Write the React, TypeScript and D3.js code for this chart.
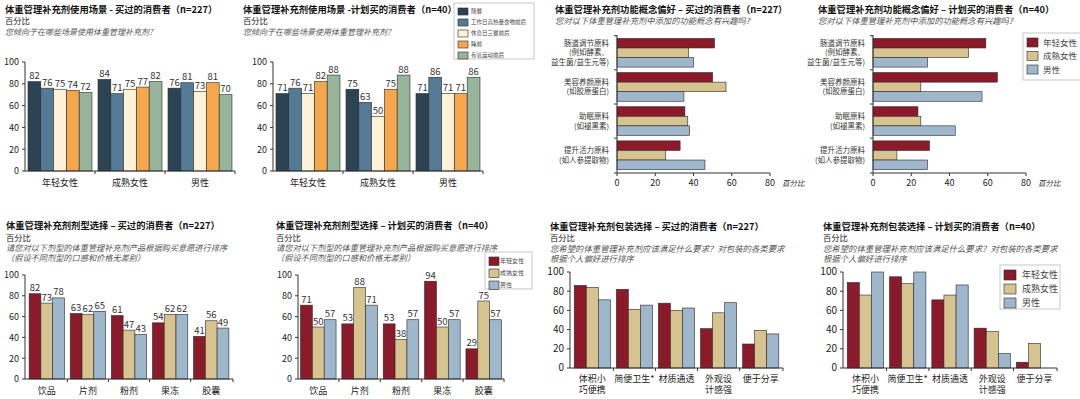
import React from "react";
import * as d3 from "d3";

// ---- data ----
const groupCats = ["年轻女性", "成熟女性", "男性"];
const usageSeries = ["随餐", "工作日高热量食物前后", "休息日三餐前后", "睡前", "有氧运动前后"];
// rows = series, cols = groupCats
const usageBought = [
  [82, 84, 76],
  [76, 71, 81],
  [75, 75, 73],
  [74, 77, 81],
  [72, 82, 70],
];
const usagePlanned = [
  [71, 75, 71],
  [76, 63, 86],
  [71, 50, 71],
  [82, 75, 71],
  [88, 88, 86],
];

const conceptCats = [
  ["肠道调节原料", "(例如酵素、", "益生菌/益生元等)"],
  ["美容养颜原料", "(如胶原蛋白)"],
  ["助眠原料", "(如褪黑素)"],
  ["提升活力原料", "(如人参提取物)"],
];
const conceptBought = [
  [51, 50, 35.5, 33],
  [37.5, 57, 37, 25.5],
  [40, 35, 38, 46],
];
const conceptPlanned = [
  [59, 65, 23.5, 29.5],
  [50, 25, 25, 12.5],
  [28.5, 57, 43, 28.5],
];

const formCats = [["饮品"], ["片剂"], ["粉剂"], ["果冻"], ["胶囊"]];
const formBought = [
  [82, 63, 61, 54, 41],
  [73, 62, 47, 62, 56],
  [78, 65, 43, 62, 49],
];
const formPlanned = [
  [71, 53, 53, 94, 29],
  [50, 88, 38, 50, 75],
  [57, 71, 57, 57, 57],
];

const packCats = [["体积小", "巧便携"], ["简便卫生*"], ["材质通透"], ["外观设", "计感强"], ["便于分享"]];
const packBought = [
  [86, 82, 67.5, 41, 25],
  [84, 61, 60, 57.5, 39],
  [71, 65.5, 62.5, 68, 35.5],
];
const packPlanned = [
  [89, 95, 71, 41.5, 6],
  [76, 88, 76, 38, 25.5],
  [100, 100, 86.5, 15, 0],
];

const yTicks = [0, 20, 40, 60, 80, 100];
const xTicksH = [0, 20, 40, 60, 80];

const usageColors = ["#2c4354", "#557a96", "#fdf1d8", "#f6a64c", "#97b59a"];
const genderColors = ["#8b1a2b", "#d6c38f", "#9fb7cc"];

const FONT = "'Noto Sans CJK SC', 'Noto Sans', sans-serif";

interface HeadProps {
  x: number;
  y: number;
  title: string;
  sub?: string;
  questions: string[];
  qSize?: number;
}

const Head: React.FC<HeadProps> = ({ x, y, title, sub, questions, qSize = 8 }) => {
  let cy = y;
  const out: React.ReactNode[] = [];
  out.push(
    <text key="t" x={x} y={cy} fontSize={9.3} fontWeight="bold" fill="#111">{title}</text>
  );
  cy += 11.5;
  if (sub) {
    out.push(<text key="s" x={x} y={cy} fontSize={8.3} fill="#222">{sub}</text>);
    cy += 10.5;
  }
  questions.forEach((q, i) => {
    out.push(
      <text key={"q" + i} x={x} y={cy + i * 10.3} fontSize={qSize} fontStyle="italic" fill="#555">{q}</text>
    );
  });
  return <g>{out}</g>;
};

interface VBarProps {
  x0: number;
  x1: number;
  yTop: number;
  yBottom: number;
  cats: string[][];
  values: number[][];
  colors: string[];
  showValues: boolean;
  padInner: number;
  padOuter: number;
  tickSize?: number;
}

const VBars: React.FC<VBarProps> = ({ x0, x1, yTop, yBottom, cats, values, colors, showValues, padInner, padOuter, tickSize = 9 }) => {
  const keys = cats.map((c) => c.join(""));
  const x = d3.scaleBand<string>().domain(keys).range([x0, x1]).paddingInner(padInner).paddingOuter(padOuter);
  const sub = d3.scaleBand<number>().domain(d3.range(values.length)).range([0, x.bandwidth()]);
  const y = d3.scaleLinear().domain([0, 100]).range([yBottom, yTop]);
  const step = x.step();
  const bounds = keys.map((k) => (x(k) as number) - (step - x.bandwidth()) / 2);
  bounds.push(x1);
  const multi = cats.some((c) => c.length > 1);
  return (
    <g>
      {values.map((series, si) =>
        series.map((v, ci) =>
          v > 0 ? (
            <rect
              key={`${si}-${ci}`}
              x={(x(keys[ci]) as number) + (sub(si) as number)}
              y={y(v)}
              width={sub.bandwidth()}
              height={y(0) - y(v)}
              fill={colors[si]}
              stroke="#2a2a2a"
              strokeWidth={0.6}
            />
          ) : null
        )
      )}
      {showValues &&
        values.map((series, si) =>
          series.map((v, ci) => (
            <text
              key={`l${si}-${ci}`}
              x={(x(keys[ci]) as number) + (sub(si) as number) + sub.bandwidth() / 2}
              y={y(v) - 2.5}
              textAnchor="middle"
              fontSize={9.5}
              fill="#333"
            >
              {v}
            </text>
          ))
        )}
      <line x1={x0} x2={x0} y1={yTop} y2={yBottom} stroke="#333" strokeWidth={1} />
      <line x1={x0} x2={x1} y1={yBottom} y2={yBottom} stroke="#333" strokeWidth={1} />
      {yTicks.map((t) => (
        <g key={t}>
          <line x1={x0 - 3} x2={x0} y1={y(t)} y2={y(t)} stroke="#333" />
          <text x={x0 - 6} y={y(t) + 3.3} textAnchor="end" fontSize={tickSize} fill="#222">{t}</text>
        </g>
      ))}
      {bounds.slice(1).map((b, i) => (
        <line key={i} x1={b} x2={b} y1={yBottom} y2={yBottom + 3} stroke="#333" />
      ))}
      {cats.map((lines, ci) =>
        lines.map((ln, li) => (
          <text
            key={`c${ci}-${li}`}
            x={(x(keys[ci]) as number) + x.bandwidth() / 2}
            y={yBottom + (multi ? 14 + li * 11 : 15)}
            textAnchor="middle"
            fontSize={9}
            fill="#222"
          >
            {ln}
          </text>
        ))
      )}
    </g>
  );
};

interface HBarProps {
  x0: number;
  x1: number;
  yTop: number;
  yBottom: number;
  cats: string[][];
  values: number[][];
  colors: string[];
}

const HBars: React.FC<HBarProps> = ({ x0, x1, yTop, yBottom, cats, values, colors }) => {
  const keys = cats.map((c) => c.join(""));
  const y = d3.scaleBand<string>().domain(keys).range([yTop, yBottom]).paddingInner(0.16).paddingOuter(0.1);
  const sub = d3.scaleBand<number>().domain(d3.range(values.length)).range([0, y.bandwidth()]);
  const x = d3.scaleLinear().domain([0, 80]).range([x0, x1]);
  const step = y.step();
  const bounds = keys.map((k) => (y(k) as number) - (step - y.bandwidth()) / 2);
  bounds.push(yBottom);
  return (
    <g>
      {values.map((series, si) =>
        series.map((v, ci) => (
          <rect
            key={`${si}-${ci}`}
            x={x(0)}
            y={(y(keys[ci]) as number) + (sub(si) as number)}
            width={x(v) - x(0)}
            height={sub.bandwidth()}
            fill={colors[si]}
            stroke="#2a2a2a"
            strokeWidth={0.6}
          />
        ))
      )}
      <line x1={x0} x2={x0} y1={yTop} y2={yBottom} stroke="#333" />
      <line x1={x0} x2={x1} y1={yBottom} y2={yBottom} stroke="#333" />
      {bounds.map((b, i) => (
        <line key={i} x1={x0 - 3} x2={x0} y1={b} y2={b} stroke="#333" />
      ))}
      {xTicksH.map((t) => (
        <g key={t}>
          <line x1={x(t)} x2={x(t)} y1={yBottom} y2={yBottom + 3} stroke="#333" />
          <text x={x(t)} y={yBottom + 13} textAnchor="middle" fontSize={9} fill="#222">{t}</text>
        </g>
      ))}
      <text x={x1 + 12} y={yBottom + 13} fontSize={7.5} fontStyle="italic" fill="#333">百分比</text>
      {cats.map((lines, ci) => {
        const cy = (y(keys[ci]) as number) + y.bandwidth() / 2;
        const lh = 9.5;
        const start = cy - ((lines.length - 1) * lh) / 2 + 2.7;
        return lines.map((ln, li) => (
          <text key={`c${ci}-${li}`} x={x0 - 8} y={start + li * lh} textAnchor="end" fontSize={7.5} fill="#333">
            {ln}
          </text>
        ));
      })}
    </g>
  );
};

interface LegendProps {
  x: number;
  y: number;
  w: number;
  h: number;
  labels: string[];
  colors: string[];
  sw: number;
  sh: number;
  gap: number;
  fontSize: number;
  textDx: number;
}

const Legend: React.FC<LegendProps> = ({ x, y, w, h, labels, colors, sw, sh, gap, fontSize, textDx }) => (
  <g>
    <rect x={x} y={y} width={w} height={h} fill="#fff" stroke="#bbb" strokeWidth={0.8} />
    {labels.map((l, i) => (
      <g key={l}>
        <rect x={x + 4} y={y + 5 + i * gap} width={sw} height={sh} fill={colors[i]} stroke="#2a2a2a" strokeWidth={0.6} />
        <text x={x + textDx} y={y + 5 + i * gap + sh / 2 + fontSize * 0.36} fontSize={fontSize} fill="#444">{l}</text>
      </g>
    ))}
  </g>
);

const App: React.FC = () => {
  const usageCatLines = groupCats.map((c) => [c]);
  return (
    <svg
      width={1080}
      height={399}
      style={{ position: "absolute", left: 0, top: 0, background: "#fff", fontFamily: FONT }}
    >
      {/* top row */}
      <Head x={5} y={12.5} title="体重管理补充剂使用场景 - 买过的消费者（n=227）" sub="百分比" questions={["您倾向于在哪些场景使用体重管理补充剂?"]} />
      <VBars x0={25} x1={235} yTop={62} yBottom={171} cats={usageCatLines} values={usageBought} colors={usageColors} showValues padInner={0.086} padOuter={0.043} />

      <Head x={243} y={12.5} title="体重管理补充剂使用场景 -计划买的消费者（n=40）" sub="百分比" questions={["您倾向于在哪些场景使用体重管理补充剂?"]} />
      <VBars x0={273} x1={483} yTop={62} yBottom={171} cats={usageCatLines} values={usagePlanned} colors={usageColors} showValues padInner={0.086} padOuter={0.043} />
      <Legend x={454} y={3} w={80} h={56} labels={usageSeries} colors={usageColors} sw={10} sh={7} gap={11} fontSize={5.5} textDx={17} />

      <Head x={555} y={12.5} title="体重管理补充剂功能概念偏好 – 买过的消费者（n=227）" questions={["您对以下体重管理补充剂中添加的功能概念有兴趣吗?"]} qSize={8.3} />
      <HBars x0={617} x1={770} yTop={35} yBottom={173} cats={conceptCats} values={conceptBought} colors={genderColors} />

      <Head x={818} y={12.5} title="体重管理补充剂功能概念偏好 – 计划买的消费者（n=40）" questions={["您对以下体重管理补充剂中添加的功能概念有兴趣吗?"]} qSize={8.3} />
      <HBars x0={873} x1={1026} yTop={35} yBottom={173} cats={conceptCats} values={conceptPlanned} colors={genderColors} />
      <Legend x={1023} y={33} w={60} h={47} labels={groupCats} colors={genderColors} sw={11} sh={9} gap={13.5} fontSize={8.5} textDx={20} />

      {/* bottom row */}
      <Head x={6} y={229} title="体重管理补充剂剂型选择 – 买过的消费者（n=227）" sub="百分比" questions={["请您对以下剂型的体重管理补充剂产品根据购买意愿进行排序", "（假设不同剂型的口感和价格无差别）"]} qSize={8.2} />
      <VBars x0={25} x1={233} yTop={275} yBottom={379} cats={formCats} values={formBought} colors={genderColors} showValues padInner={0.14} padOuter={0.1} />

      <Head x={276} y={229} title="体重管理补充剂剂型选择 – 计划买的消费者（n=40）" sub="百分比" questions={["请您对以下剂型的体重管理补充剂产品根据购买意愿进行排序", "（假设不同剂型的口感和价格无差别）"]} qSize={8.2} />
      <VBars x0={298} x1={504} yTop={275} yBottom={379} cats={formCats} values={formPlanned} colors={genderColors} showValues padInner={0.14} padOuter={0.06} />
      <Legend x={485} y={252} w={47} h={37} labels={groupCats} colors={genderColors} sw={10} sh={8.5} gap={12} fontSize={6} textDx={15} />

      <Head x={550} y={229.5} title="体重管理补充剂包装选择 – 买过的消费者（n=227）" sub="百分比" questions={["您希望的体重管理补充剂应该满足什么要求？对包装的各类要求", "根据个人偏好进行排序"]} qSize={8.4} />
      <VBars x0={570} x1={783} yTop={272} yBottom={368} cats={packCats} values={packBought} colors={genderColors} showValues={false} padInner={0.14} padOuter={0.1} tickSize={10} />

      <Head x={823} y={229.5} title="体重管理补充剂包装选择 – 计划买的消费者（n=40）" sub="百分比" questions={["您希望的体重管理补充剂应该满足什么要求？对包装的各类要求", "根据个人偏好进行排序"]} qSize={8.4} />
      <VBars x0={843} x1={1057} yTop={272} yBottom={368} cats={packCats} values={packPlanned} colors={genderColors} showValues={false} padInner={0.14} padOuter={0.1} tickSize={10} />
      <Legend x={1000} y={265} w={60} h={44} labels={groupCats} colors={genderColors} sw={12} sh={10} gap={14} fontSize={9} textDx={22} />
    </svg>
  );
};

export default App;
